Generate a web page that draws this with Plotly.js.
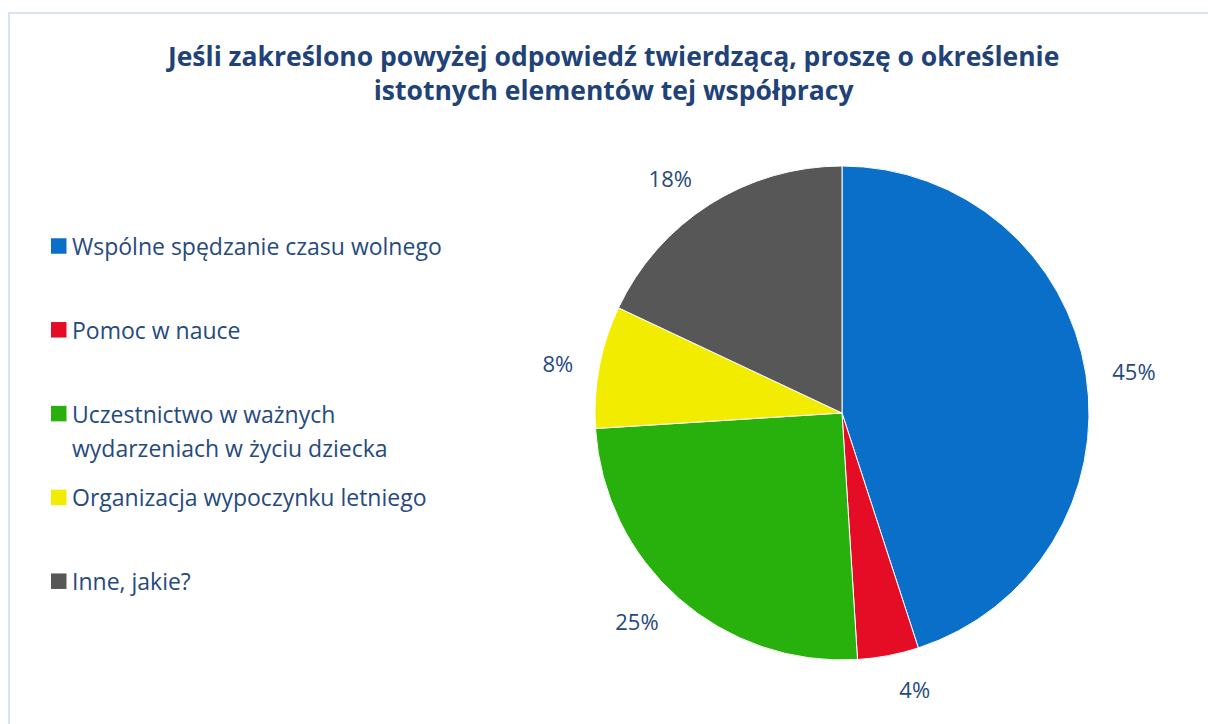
<!DOCTYPE html>
<html>
<head>
<meta charset="utf-8">
<script src="https://cdn.plot.ly/plotly-3.0.1.min.js"></script>
<style>
  html, body { margin: 0; padding: 0; width: 1208px; height: 724px; overflow: hidden; background: #fff; }
  #chart { position: absolute; left: 0; top: 0; width: 1208px; height: 724px; }
  #frame { position: absolute; left: 8px; top: 12px; width: 1400px; height: 900px;
           border-left: 2px solid #d5e3f4; border-top: 2px solid #d5e3f4; pointer-events: none; }
</style>
</head>
<body>
<div id="chart"></div>
<div id="frame"></div>
<script>
// ---- data ----
const categories = [
  "Wspólne spędzanie czasu wolnego",
  "Pomoc w nauce",
  "Uczestnictwo w ważnych<br>wydarzeniach w życiu dziecka",
  "Organizacja wypoczynku letniego",
  "Inne, jakie?"
];
const values = [45, 4, 25, 8, 18];
const colors = ["#0a6fc8", "#e50d26", "#28b00c", "#f2ec00", "#575757"];
const titleText = "Jeśli zakreślono powyżej odpowiedź twierdzącą, proszę o określenie<br>istotnych elementów tej współpracy";

const W = 1208, H = 724;
const FONT = "'Open Sans', sans-serif";
const TXT = "#264a7e";

// pie geometry (layout)
const cx = 842, cy = 413, r = 247, labelPad = 19;
const dom = (rad) => ({ x: [(cx - rad) / W, (cx + rad) / W], y: [1 - (cy + rad) / H, 1 - (cy - rad) / H] });

// visible pie
const pie = {
  type: "pie",
  labels: categories, values: values,
  sort: false, direction: "clockwise", rotation: 0,
  marker: { colors: colors, line: { color: "#ffffff", width: 1 } },
  textinfo: "none",
  showlegend: false,
  hoverinfo: "label+percent",
  domain: dom(r)
};
// transparent slightly larger pie that only carries the outside percent labels
const labelPie = {
  type: "pie",
  labels: categories, values: values,
  sort: false, direction: "clockwise", rotation: 0,
  marker: { colors: values.map(() => "rgba(0,0,0,0)"), line: { width: 0 } },
  texttemplate: "%{value}%",
  textposition: "outside",
  outsidetextfont: { family: FONT, size: 22, color: TXT },
  showlegend: false,
  hoverinfo: "skip",
  domain: dom(r + labelPad)
};

// custom legend built from the category/colour arrays
const legendTop = 246, legendStep = 83.8, lineStep = 34, boxSize = 15.5, boxX = 51, textX = 70;
const annotations = [], shapes = [];
categories.forEach((c, i) => {
  const yPix = legendTop + i * legendStep;
  c.split("<br>").forEach((line, j) => {
    annotations.push({
      xref: "paper", yref: "paper",
      x: textX / W, y: 1 - (yPix + j * lineStep) / H,
      xanchor: "left", yanchor: "middle", align: "left",
      text: line, showarrow: false,
      font: { family: FONT, size: 23, color: TXT }
    });
  });
  shapes.push({
    type: "rect", xref: "paper", yref: "paper",
    x0: boxX / W, x1: (boxX + boxSize) / W,
    y0: 1 - (yPix + boxSize / 2) / H, y1: 1 - (yPix - boxSize / 2) / H,
    fillcolor: colors[i], line: { width: 0 }
  });
});

const layout = {
  width: W, height: H,
  margin: { l: 0, r: 0, t: 0, b: 0 },
  paper_bgcolor: "#ffffff",
  title: {
    text: titleText,
    x: 0.508, xanchor: "center",
    y: 1 - 66 / H, yanchor: "top", yref: "container",
    font: { family: FONT, size: 26.5, color: "#1f4279", weight: "bold" }
  },
  annotations: annotations,
  shapes: shapes
};

Plotly.newPlot("chart", [labelPie, pie], layout, { displayModeBar: false, staticPlot: true });
</script>
</body>
</html>
